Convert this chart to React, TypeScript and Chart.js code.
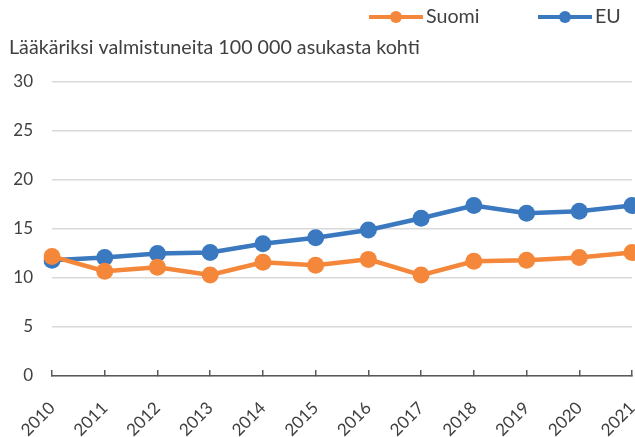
import React, { useEffect, useRef } from "react";
import { Chart, registerables } from "chart.js";

Chart.register(...registerables);

const years = ["2010", "2011", "2012", "2013", "2014", "2015", "2016", "2017", "2018", "2019", "2020", "2021"];
const suomi = [12.2, 10.7, 11.1, 10.3, 11.6, 11.3, 11.9, 10.3, 11.7, 11.8, 12.1, 12.6];
const eu = [11.8, 12.1, 12.5, 12.6, 13.5, 14.1, 14.9, 16.1, 17.4, 16.6, 16.8, 17.4];
const yTicks = [0, 5, 10, 15, 20, 25, 30];
const title = "Lääkäriksi valmistuneita 100 000 asukasta kohti";
const seriesNames = ["Suomi", "EU"];

const ORANGE = "#F5873A";
const BLUE = "#3A78C0";
const TEXT = "#404040";
const FONT = "Lato, 'Open Sans', sans-serif";

const overlay = {
  id: "overlay",
  afterDraw(chart: any) {
    const ctx = chart.ctx;
    ctx.save();
    ctx.fillStyle = TEXT;
    ctx.textBaseline = "middle";
    ctx.textAlign = "left";
    ctx.font = `20px ${FONT}`;
    const w = ctx.measureText(title).width;
    const size = Math.min(22, Math.max(16, (20 * 411) / w));
    ctx.font = `${size.toFixed(2)}px ${FONT}`;
    ctx.fillText(title, 9, 48);

    const items = [
      { label: seriesNames[0], color: ORANGE, x0: 369 },
      { label: seriesNames[1], color: BLUE, x0: 538 },
    ];
    items.forEach((it) => {
      ctx.strokeStyle = it.color;
      ctx.lineWidth = 4;
      ctx.beginPath();
      ctx.moveTo(it.x0, 17);
      ctx.lineTo(it.x0 + 54, 17);
      ctx.stroke();
      ctx.fillStyle = it.color;
      ctx.beginPath();
      ctx.arc(it.x0 + 27, 17, 6, 0, Math.PI * 2);
      ctx.fill();
      ctx.fillStyle = TEXT;
      ctx.font = `${size.toFixed(2)}px ${FONT}`;
      ctx.fillText(it.label, it.x0 + 57, 17);
    });
    ctx.restore();
  },
};

export default function App() {
  const ref = useRef<HTMLCanvasElement | null>(null);
  useEffect(() => {
    let chart: any = null;
    let cancelled = false;
    const make = () => {
      if (cancelled || !ref.current) return;
      chart = new Chart(ref.current, {
        type: "line",
        data: {
          labels: years,
          datasets: [
            {
              label: seriesNames[0],
              data: suomi,
              borderColor: ORANGE,
              backgroundColor: ORANGE,
              borderWidth: 4.5,
              pointRadius: 8.5,
              pointHoverRadius: 8.5,
              pointBorderWidth: 0,
              tension: 0,
            },
            {
              label: seriesNames[1],
              data: eu,
              borderColor: BLUE,
              backgroundColor: BLUE,
              borderWidth: 4.5,
              pointRadius: 8.5,
              pointHoverRadius: 8.5,
              pointBorderWidth: 0,
              tension: 0,
            },
          ],
        },
        options: {
          animation: false,
          responsive: false,
          maintainAspectRatio: false,
          layout: { autoPadding: false, padding: { top: 82, right: 3, left: 0, bottom: 0 } },
          plugins: { legend: { display: false }, tooltip: { enabled: false }, title: { display: false } },
          scales: {
            x: {
              offset: false,
              grid: { drawOnChartArea: false, drawTicks: true, tickLength: -6, color: "#595959", lineWidth: 1.5 },
              border: { color: "#595959", width: 1.5 },
              ticks: {
                color: TEXT,
                font: { family: FONT, size: 17 },
                maxRotation: 45,
                minRotation: 45,
                autoSkip: false,
                padding: 28,
              },
              afterFit(axis: any) {
                axis.height = 437 - 376;
                axis.paddingLeft = 0;
                axis.paddingRight = 0;
              },
            },
            y: {
              min: 0,
              max: 30,
              afterBuildTicks(axis: any) {
                axis.ticks = yTicks.map((v) => ({ value: v }));
              },
              grid: { color: "#D9D9D9", lineWidth: 1.5, drawTicks: false },
              border: { display: false },
              ticks: {
                color: TEXT,
                font: { family: FONT, size: 17 },
                padding: 19,
              },
              afterFit(axis: any) {
                axis.width = 52;
              },
            },
          },
        },
        plugins: [overlay],
      });
    };
    const fonts: any = (document as any).fonts;
    if (fonts && fonts.load) {
      Promise.all([fonts.load(`17px Lato`), fonts.load(`15px Lato`)])
        .catch(() => null)
        .then(() => make());
    } else {
      make();
    }
    return () => {
      cancelled = true;
      if (chart) chart.destroy();
    };
  }, []);
  return (
    <div style={{ position: "fixed", left: 0, top: 0, width: 635, height: 437, background: "#fff" }}>
      <canvas ref={ref} width={635} height={437} style={{ width: 635, height: 437, display: "block" }} />
    </div>
  );
}
